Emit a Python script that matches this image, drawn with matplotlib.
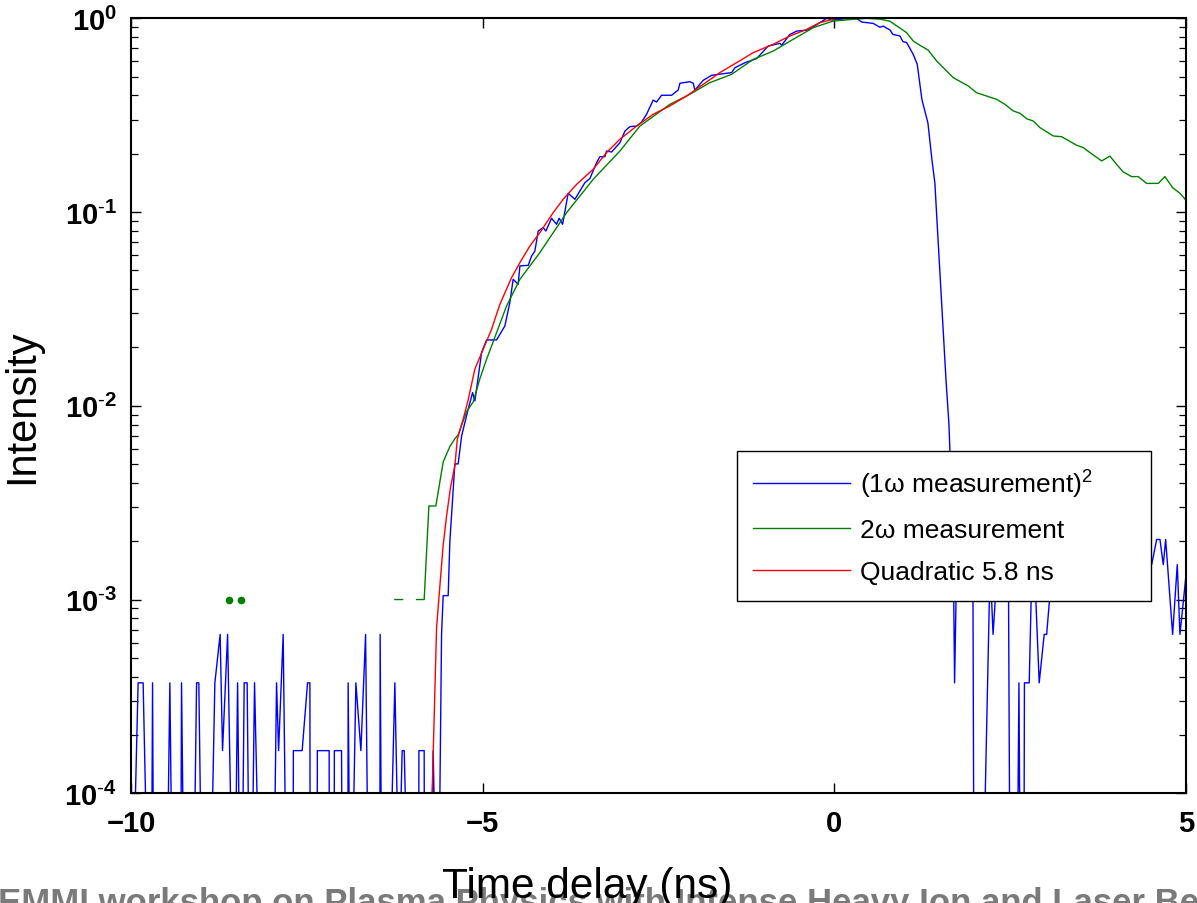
import numpy as np
import matplotlib
matplotlib.use("Agg")
import matplotlib.pyplot as plt

# ---------------- data (time in ns, intensity given as log10) ----------------
blue_t = [-9.969, -9.898, -9.827, -9.764, -9.707, -9.693, -9.679, -9.485, -9.447, -9.414,
          -9.291, -9.281, -9.248, -9.106, -9.067, -9.035, -8.996, -8.864, -8.807, -8.732,
          -8.698, -8.626, -8.561, -8.518, -8.484, -8.452, -8.419, -8.390, -8.348, -8.319,
          -8.281, -8.243, -8.177, -7.968, -7.930, -7.901, -7.836, -7.793, -7.694, -7.691,
          -7.566, -7.489, -7.456, -7.452, -7.352, -7.350, -7.182, -7.179, -7.111, -7.108,
          -7.006, -6.997, -6.916, -6.912, -6.888, -6.855, -6.802, -6.731, -6.664, -6.627,
          -6.461, -6.457, -6.437, -6.319, -6.248, -6.191, -6.144, -6.115, -6.067, -5.909,
          -5.906, -5.831, -5.828, -5.736, -5.703, -5.665, -5.622, -5.584, -5.561, -5.490,
          -5.466, -5.419, -5.395, -5.348, -5.299, -5.206, -5.143, -5.110, -5.015, -4.944,
          -4.802, -4.684, -4.613, -4.566, -4.495, -4.470, -4.352, -4.304, -4.257, -4.210,
          -4.139, -4.101, -4.020, -3.949, -3.912, -3.863, -3.784, -3.688, -3.546, -3.475,
          -3.380, -3.333, -3.262, -3.238, -3.167, -3.048, -2.977, -2.906, -2.811, -2.740,
          -2.669, -2.575, -2.527, -2.456, -2.313, -2.220, -2.195, -2.053, -2.006, -1.982,
          -1.864, -1.745, -1.460, -1.413, -1.271, -1.105, -0.940, -0.773, -0.749, -0.631,
          -0.536, -0.371, -0.205, -0.109, -0.016, 0.198, 0.317, 0.388, 0.553, 0.648,
          0.695, 0.791, 0.833, 0.933, 0.975, 1.028, 1.122, 1.179, 1.207, 1.246,
          1.331, 1.388, 1.430, 1.459, 1.587, 1.629, 1.651, 1.690, 1.710, 1.745,
          1.850, 1.970, 1.985, 2.117, 2.215, 2.257, 2.320, 2.400, 2.475, 2.497,
          2.601, 2.625, 2.643, 2.696, 2.703, 2.771, 2.810, 2.845, 2.913, 2.984,
          3.019, 3.101, 3.280, 3.490, 3.700, 3.920, 4.130, 4.350, 4.512, 4.583,
          4.630, 4.677, 4.711, 4.810, 4.876, 4.914, 4.971, 5.014]
blue_log10 = [-4.5, -3.43, -3.43, -4.5, -4.5, -3.43, -4.5, -4.5, -3.43, -4.5,
              -4.5, -3.43, -4.5, -4.5, -3.43, -3.43, -4.5, -4.5, -3.43, -3.18,
              -3.78, -3.18, -4.5, -4.5, -3.43, -4.5, -4.5, -3.43, -3.43, -4.5,
              -4.5, -3.43, -4.5, -4.5, -3.43, -3.78, -3.18, -4.5, -4.5, -3.78,
              -3.78, -3.43, -3.43, -4.5, -4.5, -3.78, -3.78, -4.5, -4.5, -3.78,
              -3.78, -4.5, -4.5, -3.43, -4.5, -4.5, -3.43, -3.78, -3.18, -4.5,
              -4.5, -3.18, -4.5, -4.5, -3.43, -4.5, -3.78, -3.78, -4.5, -4.5,
              -3.78, -3.78, -4.5, -4.5, -3.78, -4.5, -4.5, -3.18, -2.98, -2.98,
              -2.70, -2.43, -2.30, -2.30, -2.156, -2.018, -1.932, -1.975, -1.725, -1.66,
              -1.66, -1.588, -1.467, -1.347, -1.373, -1.278, -1.275, -1.227, -1.201, -1.098,
              -1.08, -1.098, -1.032, -1.063, -1.032, -1.063, -0.903, -0.934, -0.848, -0.827,
              -0.745, -0.714, -0.714, -0.685, -0.690, -0.642, -0.582, -0.559, -0.556, -0.535,
              -0.495, -0.422, -0.432, -0.397, -0.397, -0.370, -0.335, -0.327, -0.335, -0.370,
              -0.320, -0.294, -0.280, -0.255, -0.229, -0.208, -0.143, -0.129, -0.139, -0.083,
              -0.066, -0.060, -0.022, 0.0, -0.009, 0.0, 0.0, -0.019, -0.026, -0.046,
              -0.040, -0.060, -0.083, -0.091, -0.120, -0.125, -0.186, -0.237, -0.315, -0.42,
              -0.54, -0.73, -0.85, -1.04, -1.86, -2.09, -2.30, -2.70, -3.43, -2.70,
              -2.82, -2.82, -4.5, -4.5, -2.82, -3.18, -2.82, -2.82, -2.82, -4.5,
              -4.5, -3.43, -4.5, -4.5, -3.43, -3.43, -2.82, -2.82, -3.43, -3.18,
              -3.18, -2.82, -2.82, -2.69, -2.82, -2.69, -2.82, -2.69, -2.82, -2.69,
              -2.69, -2.82, -2.69, -3.18, -2.82, -3.18, -2.98, -2.82]

green_t = [-6.248, -6.138, np.nan, -5.939, -5.831, -5.764, -5.665, -5.561, -5.466, -5.395,
           -5.348, -5.228, -5.134, -5.039, -4.944, -4.660, -4.470, -4.186, -3.806, -3.428,
           -3.048, -2.764, -2.338, -2.053, -1.769, -1.460, -1.153, -0.869, -0.584, -0.300,
           -0.016, 0.269, 0.459, 0.648, 0.790, 0.933, 1.028, 1.122, 1.217, 1.335,
           1.455, 1.691, 1.904, 2.023, 2.308, 2.426, 2.544, 2.639, 2.734, 2.828,
           2.923, 3.112, 3.232, 3.445, 3.539, 3.634, 3.801, 3.919, 4.014, 4.108,
           4.227, 4.321, 4.441, 4.606, 4.701, 4.810, 4.914, 5.009]
green_log10 = [-3.0, -3.0, np.nan, -3.0, -3.0, -2.517, -2.517, -2.29, -2.21, -2.17,
               -2.15, -2.03, -1.98, -1.86, -1.76, -1.485, -1.347, -1.209, -1.003, -0.831,
               -0.685, -0.556, -0.444, -0.392, -0.332, -0.289, -0.212, -0.169, -0.108, -0.048,
               -0.014, -0.005, 0.0, -0.004, -0.015, -0.050, -0.074, -0.117, -0.139, -0.164,
               -0.220, -0.306, -0.349, -0.384, -0.418, -0.444, -0.478, -0.490, -0.518, -0.530,
               -0.564, -0.607, -0.611, -0.655, -0.667, -0.693, -0.736, -0.711, -0.754, -0.793,
               -0.817, -0.817, -0.852, -0.852, -0.817, -0.874, -0.903, -0.943]
green_dot_t = [-8.608, -8.437]
green_dot_log10 = [-3.0, -3.0]

red_t = [-5.740, -5.655, -5.608, -5.561, -5.513, -5.456, -5.395, -5.360, -5.277, -5.206,
         -5.110, -4.992, -4.873, -4.755, -4.588, -4.470, -4.328, -4.186, -3.997, -3.855,
         -3.664, -3.428, -3.238, -3.048, -2.811, -2.575, -2.338, -2.100, -1.864, -1.627,
         -1.389, -1.153, -0.869, -0.631, -0.394, -0.205, -0.016]
red_log10 = [-4.3, -3.147, -2.93, -2.72, -2.57, -2.42, -2.31, -2.173, -2.07, -1.97,
             -1.81, -1.708, -1.605, -1.476, -1.338, -1.261, -1.175, -1.106, -1.003, -0.934,
             -0.857, -0.779, -0.693, -0.624, -0.556, -0.495, -0.452, -0.401, -0.341, -0.280,
             -0.229, -0.177, -0.134, -0.091, -0.057, -0.022, -0.005]

legend_labels = ["(1\u03c9 measurement)$^2$", "2\u03c9 measurement", "Quadratic 5.8 ns"]
x_ticks = [-10, -5, 0, 5]
x_ticklabels = ["\u221210", "\u22125", "0", "5"]
y_ticks = [1e-4, 1e-3, 1e-2, 1e-1, 1e0]
y_ticklabels = [r"$\mathbf{10^{\text{-}4}}$", r"$\mathbf{10^{\text{-}3}}$",
                r"$\mathbf{10^{\text{-}2}}$", r"$\mathbf{10^{\text{-}1}}$",
                r"$\mathbf{10^{0}}$"]
footer_text = "EMMI workshop on Plasma Physics with Intense Heavy Ion and Laser Beams"

# ---------------- style ----------------
plt.rcParams["font.family"] = ["Liberation Sans", "DejaVu Sans"]
plt.rcParams["mathtext.fontset"] = "custom"
plt.rcParams["mathtext.rm"] = "Liberation Sans"
plt.rcParams["mathtext.it"] = "Liberation Sans:italic"
plt.rcParams["mathtext.bf"] = "Liberation Sans:bold"

fig = plt.figure(figsize=(11.97, 9.04), dpi=100)
ax = fig.add_axes([0.1094, 0.1214, 0.8814, 0.8572])

l1, = ax.plot(blue_t, 10 ** np.array(blue_log10), color="#0000FF", lw=1.0)
l2, = ax.plot(green_t, 10 ** np.array(green_log10), color="#008000", lw=1.0)
ax.plot(green_dot_t, 10 ** np.array(green_dot_log10), "o", color="#008000", ms=5.5, mew=0)
l3, = ax.plot(red_t, 10 ** np.array(red_log10), color="#FF0000", lw=1.0)

ax.set_yscale("log")
ax.set_xlim(-10, 5)
ax.set_ylim(1e-4, 1)
ax.set_xticks(x_ticks)
ax.set_xticklabels(x_ticklabels, fontsize=21, fontweight="bold")
ax.set_yticks(y_ticks)
ax.set_yticklabels(y_ticklabels, fontsize=21)
ax.tick_params(which="both", direction="in", top=True, right=True, color="black")
ax.tick_params(which="major", length=7, width=1.0)
ax.tick_params(axis="x", which="major", pad=11)
ax.tick_params(axis="y", which="major", pad=10)
ax.tick_params(which="minor", length=5, width=0.9)
ax.xaxis.set_minor_locator(matplotlib.ticker.NullLocator())
for s in ax.spines.values():
    s.set_linewidth(1.5)
    s.set_color("black")

ax.set_ylabel("Intensity", fontsize=30)
ax.yaxis.set_label_coords(-0.084, 0.5)
ax.set_xlabel("Time delay (ns)", fontsize=30.5)
ax.xaxis.set_label_coords(0.432, -0.1345)
ax.xaxis.label.set_va("baseline")

leg = ax.legend([l1, l2, l3], legend_labels, loc="upper left",
                bbox_to_anchor=(0.5744, 0.2512, 0.3924, 0.1905), mode="expand",
                borderaxespad=0, borderpad=0.62, handlelength=3.66, handletextpad=0.38,
                labelspacing=0.7, fontsize=19, fancybox=False, framealpha=1,
                edgecolor="black")
leg.get_frame().set_linewidth(1.0)

fig.text(-0.002, -0.010, footer_text, fontsize=25, fontweight="bold",
         color="#7a7a7a", ha="left", va="baseline", zorder=-1)

fig.savefig("out.png", dpi=100)
